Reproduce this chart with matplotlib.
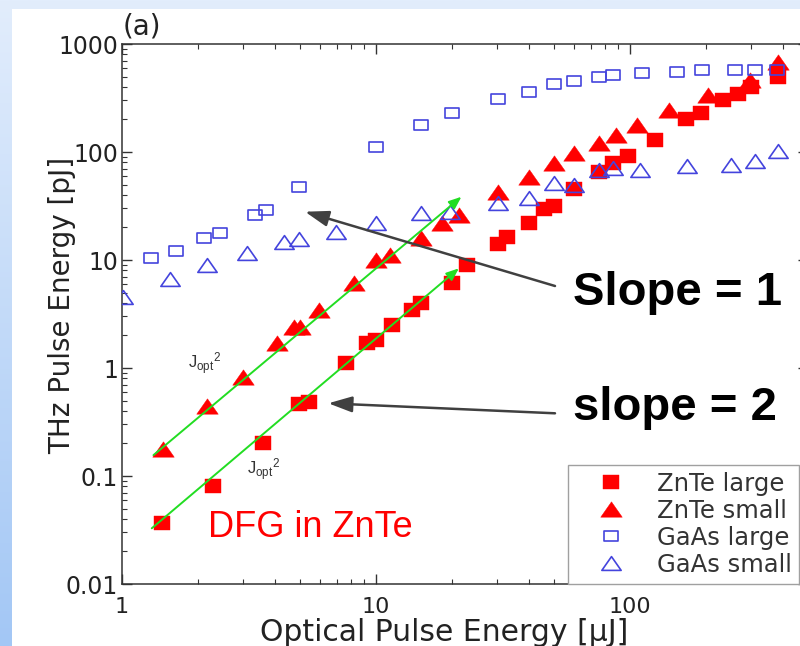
import numpy as np
import matplotlib
matplotlib.use('Agg')
import matplotlib.pyplot as plt
from matplotlib.path import Path
from matplotlib.patches import Rectangle
from matplotlib.colors import LinearSegmentedColormap
from matplotlib import ticker

# ---------------- data ----------------
znte_large_x = [1.44, 2.28, 3.59, 4.96, 5.43, 7.65, 9.23, 9.98, 11.6, 13.9, 15.0, 20.0, 22.9,
                30.1, 32.9, 40.2, 45.9, 50.2, 60.1, 75.7, 85.5, 98.1, 126, 166, 191, 232,
                266, 300, 381]
znte_large_y = [0.037, 0.080, 0.203, 0.464, 0.481, 1.105, 1.69, 1.82, 2.50, 3.44, 3.97, 6.08, 9.0,
                14.1, 16.4, 22.1, 29.5, 31.4, 45.0, 65.3, 78.5, 91.8, 129, 203, 228, 303,
                348, 403, 490]

znte_small_x = [1.455, 2.17, 2.99, 4.08, 4.74, 5.04, 5.95, 8.18, 9.98, 11.4, 15.0, 18.2, 21.2,
                30.1, 40.2, 50.2, 60.2, 75.7, 88.1, 107, 143, 203, 296, 382]
znte_small_y = [0.178, 0.445, 0.83, 1.69, 2.38, 2.41, 3.44, 6.08, 10.0, 11.1, 15.9, 21.9, 26.1,
                42.9, 59.0, 78.5, 97.2, 120, 143.6, 178, 245, 337, 464, 685]

gaas_large_x = [1.305, 1.628, 2.10, 2.436, 3.35, 3.69, 4.98, 10.0, 15.0, 20.0, 30.1, 40.2, 50.0,
                60.0, 75.7, 85.5, 111.5, 153, 192, 259, 310, 380]
gaas_large_y = [10.5, 12.1, 15.9, 17.8, 26.1, 28.9, 47.1, 112, 176, 230, 308, 361, 426,
                454, 494, 519, 535, 547, 574, 570, 570, 574]

gaas_small_x = [1.01, 1.547, 2.16, 3.10, 4.36, 4.99, 6.98, 10.0, 15.0, 19.5, 30.1, 40.2, 50.2,
                60.2, 75.7, 85.5, 110, 168, 250, 311, 383]
gaas_small_y = [4.57, 6.63, 9.04, 11.7, 14.7, 15.7, 18.3, 21.9, 27.0, 28.0, 33.5, 37.3, 51.3,
                49.4, 68.1, 70.6, 68.1, 74.6, 75.9, 82.6, 103]

# J_opt^2 guide lines (start, end)
fit_small_x = [1.33, 21.7]
fit_small_y = [0.156, 38.5]
fit_large_x = [1.31, 21.2]
fit_large_y = [0.0328, 8.37]

series_labels = ['ZnTe large', 'ZnTe small', 'GaAs large', 'GaAs small']
xlabel = 'Optical Pulse Energy [μJ]'
ylabel = 'THz Pulse Energy [pJ]'

# ---------------- figure ----------------
W, H = 800, 646
fig = plt.figure(figsize=(W / 100, H / 100), dpi=100)


def fx(px):
    return px / W


def fy(py):
    return 1 - py / H


# slide-like background
bg = fig.add_axes([0, 0, 1, 1], zorder=-10)
bg.set_axis_off()
cmap = LinearSegmentedColormap.from_list('bgblue', ['#e2edfc', '#a3c7f5'])
bg.imshow(np.linspace(0, 1, 256).reshape(-1, 1), aspect='auto', cmap=cmap,
          extent=[0, 1, 0, 1])
bg.add_patch(Rectangle((12 / W, 0), 1, 1 - 9 / H, transform=bg.transAxes,
                       facecolor='white', edgecolor='none'))
bg.set_xlim(0, 1)
bg.set_ylim(0, 1)

ax = fig.add_axes([fx(122), 62 / H, (807.5 - 122) / W, 540 / H])
ax.set_xscale('log')
ax.set_yscale('log')
ax.set_xlim(1, 500)
ax.set_ylim(0.01, 1000)

# custom (horizontally stretched) markers
sq = Path([(-1.25, -1), (1.25, -1), (1.25, 1), (-1.25, 1), (-1.25, -1)],
          [Path.MOVETO, Path.LINETO, Path.LINETO, Path.LINETO, Path.CLOSEPOLY])
tri = Path([(-1.4, -1), (1.4, -1), (0, 1), (-1.4, -1)],
           [Path.MOVETO, Path.LINETO, Path.LINETO, Path.CLOSEPOLY])

red = '#ff0000'
blue = '#4444dd'

h1, = ax.plot(znte_large_x, znte_large_y, ls='none', marker=sq, ms=12,
              mfc=red, mec=red, mew=0.3, label=series_labels[0], zorder=3)
h2, = ax.plot(znte_small_x, znte_small_y, ls='none', marker=tri, ms=15.5,
              mfc=red, mec=red, mew=0.3, label=series_labels[1], zorder=3)
h3, = ax.plot(gaas_large_x, gaas_large_y, ls='none', marker=sq, ms=9.8,
              mfc='none', mec=blue, mew=1.2, label=series_labels[2], zorder=4)
h4, = ax.plot(gaas_small_x, gaas_small_y, ls='none', marker=tri, ms=13.9,
              mfc='none', mec=blue, mew=1.2, label=series_labels[3], zorder=4)

green = '#22dd22'
for xs, ys in [(fit_small_x, fit_small_y), (fit_large_x, fit_large_y)]:
    ax.annotate('', xy=(xs[1], ys[1]), xytext=(xs[0], ys[0]), xycoords='data',
                arrowprops=dict(arrowstyle='-|>,head_length=0.75,head_width=0.3',
                                color=green, lw=1.4, shrinkA=0, shrinkB=0,
                                mutation_scale=10), zorder=5)

# ticks
fmt = ticker.FuncFormatter(lambda v, p: f'{v:g}')
for axis in (ax.xaxis, ax.yaxis):
    axis.set_major_locator(ticker.LogLocator(base=10, numticks=12))
    axis.set_minor_locator(ticker.LogLocator(base=10, subs=np.arange(2, 10), numticks=40))
    axis.set_major_formatter(fmt)
    axis.set_minor_formatter(ticker.NullFormatter())

ax.tick_params(which='both', direction='in', top=True, right=True, color='#333333',
               labelcolor='#222222')
ax.tick_params(which='major', length=7, width=1.0)
ax.tick_params(which='minor', length=3.5, width=0.8)
ax.tick_params(axis='x', pad=9.5, labelsize=16)
ax.tick_params(axis='y', pad=3, labelsize=17)
for lab in ax.get_xticklabels() + ax.get_yticklabels():
    lab.set_family('DejaVu Sans')
for sp in ax.spines.values():
    sp.set_color('#333333')
    sp.set_linewidth(1.1)

ax.set_xlabel(xlabel, fontsize=21.5, family='DejaVu Sans', color='#222222', va='baseline')
ax.xaxis.set_label_coords(fx(444), fy(641), transform=fig.transFigure)
ax.set_ylabel(ylabel, fontsize=20, family='DejaVu Sans', color='#222222')
ax.yaxis.set_label_coords(fx(76), fy(305), transform=fig.transFigure)

fig.text(fx(123), fy(27), '(a)', fontsize=20, family='DejaVu Sans', color='#222222',
         ha='left', va='center')

leg = ax.legend(handles=[h1, h2, h3, h4], labels=series_labels, loc='lower left',
                bbox_to_anchor=((568 - 122) / 685.5, 0), borderaxespad=0,
                frameon=True, fancybox=False, edgecolor='#a0a0a0', framealpha=1,
                prop={'family': 'DejaVu Sans', 'size': 17.5}, labelcolor='#333333',
                handlelength=2.9, handletextpad=0.45, borderpad=0.3, labelspacing=0.12,
                numpoints=1)
leg.get_frame().set_linewidth(1.0)
leg.set_zorder(6)

# annotations
gray = '#404040'
ax.annotate('', xy=(fx(305), fy(211.7)), xytext=(fx(555), fy(286)),
            xycoords='figure fraction', textcoords='figure fraction',
            arrowprops=dict(arrowstyle='-|>,head_length=0.72,head_width=0.24',
                            color=gray, lw=1.8, shrinkA=0, shrinkB=0, mutation_scale=20),
            annotation_clip=False, zorder=7)
ax.annotate('', xy=(fx(328.3), fy(403.3)), xytext=(fx(555), fy(413.3)),
            xycoords='figure fraction', textcoords='figure fraction',
            arrowprops=dict(arrowstyle='-|>,head_length=0.72,head_width=0.24',
                            color=gray, lw=1.8, shrinkA=0, shrinkB=0, mutation_scale=20),
            annotation_clip=False, zorder=7)

fig.text(fx(573), fy(305), 'Slope = 1', fontsize=34, fontweight='bold',
         family='Liberation Sans', color='black', ha='left', va='baseline')
fig.text(fx(573), fy(420), 'slope = 2', fontsize=34, fontweight='bold',
         family='Liberation Sans', color='black', ha='left', va='baseline')
fig.text(fx(208), fy(536.7), 'DFG in ZnTe', fontsize=26,
         family='Liberation Sans', color=red, ha='left', va='baseline')

fig.text(fx(188), fy(369), r'$\mathregular{J_{opt}{}^{2}}$', fontsize=12,
         family='Liberation Sans', color='#333333', ha='left', va='baseline')
fig.text(fx(247), fy(475), r'$\mathregular{J_{opt}{}^{2}}$', fontsize=12,
         family='Liberation Sans', color='#333333', ha='left', va='baseline')

fig.savefig('out.png', dpi=100)
